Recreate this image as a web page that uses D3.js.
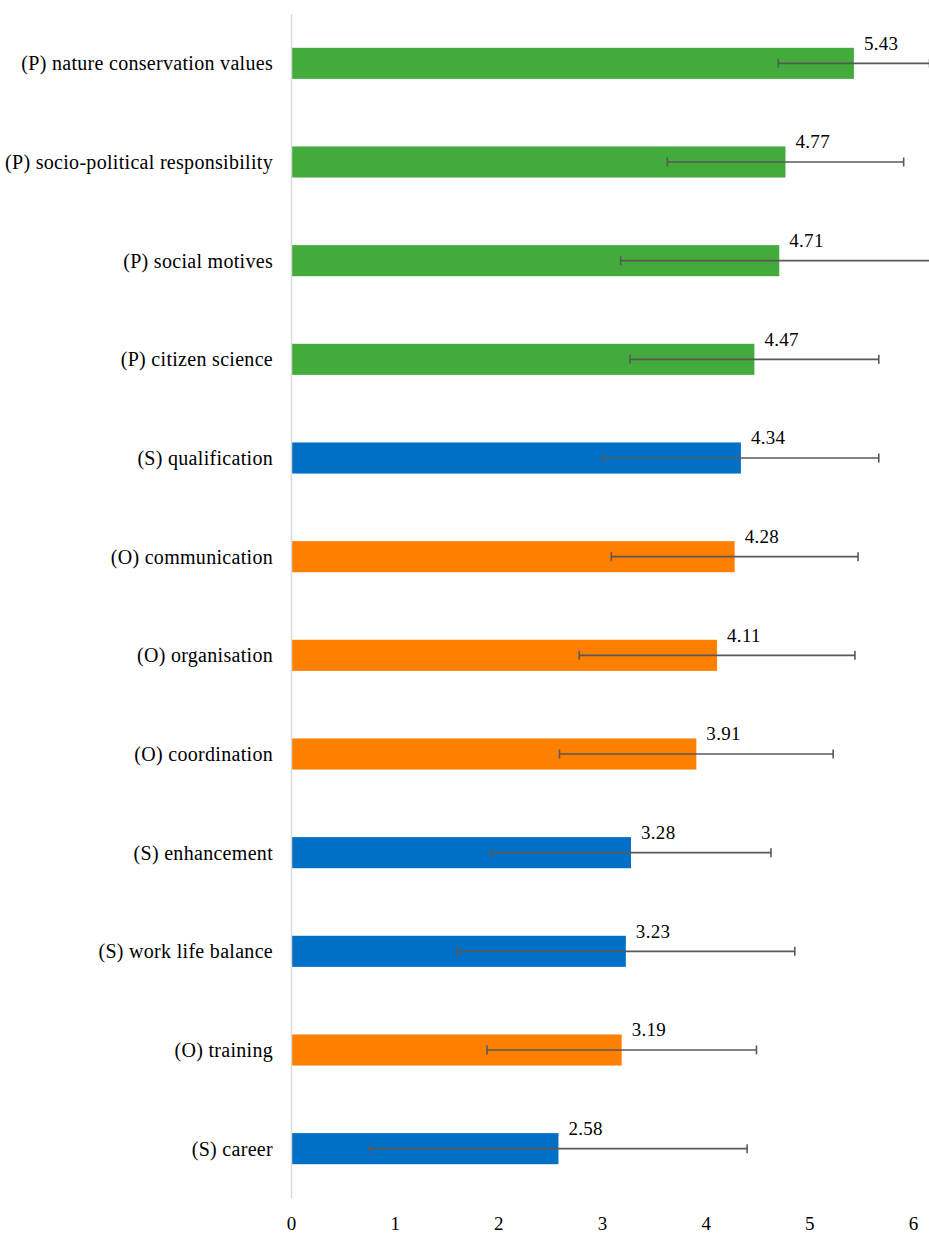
<!DOCTYPE html>
<html>
<head>
<meta charset="utf-8">
<script src="https://cdn.jsdelivr.net/npm/d3@7"></script>
<style>
  body { margin: 0; background: #fff; }
  text { font-family: "Liberation Serif", "DejaVu Serif", serif; fill: #000; }
</style>
</head>
<body>
<div id="chart-1"></div>
<script>
var categories = [
    "(P) nature conservation values",
    "(P) socio-political responsibility",
    "(P) social motives",
    "(P) citizen science",
    "(S) qualification",
    "(O) communication",
    "(O) organisation",
    "(O) coordination",
    "(S) enhancement",
    "(S) work life balance",
    "(O) training",
    "(S) career"
];
var means = [5.43, 4.77, 4.71, 4.47, 4.34, 4.28, 4.11, 3.91, 3.28, 3.23, 3.19, 2.58];
var errors = [0.73, 1.14, 1.53, 1.20, 1.33, 1.19, 1.33, 1.32, 1.35, 1.63, 1.30, 1.82];
var groups = ["P", "P", "P", "P", "S", "O", "O", "O", "S", "S", "O", "S"];
var xTicks = [0, 1, 2, 3, 4, 5, 6];

var colors = { P: "#43ab3b", S: "#0070c6", O: "#ff7f00" };

var data = categories.map(function(c, i) {
    return { name: c, value: means[i], err: errors[i], group: groups[i] };
});

var margin = {top: 14, right: 16, bottom: 36, left: 291},
    width = 929 - margin.left - margin.right,
    height = 1234 - margin.top - margin.bottom;

var x = d3.scaleLinear().domain([0, 6]).range([0, 622]);
var y = d3.scaleBand().domain(categories).range([0, height]).paddingInner(0.685).paddingOuter(0.3425);

var svg = d3.select("#chart-1")
    .append("svg")
    .attr("width", 929)
    .attr("height", 1234)
    .style("display", "block")
    .append("g")
    .attr("transform", "translate(" + margin.left + "," + margin.top + ")");

// bars
svg.selectAll(".bar")
    .data(data)
    .enter().append("rect")
    .attr("class", "bar")
    .attr("x", 0)
    .attr("y", function(d) { return y(d.name); })
    .attr("width", function(d) { return x(d.value); })
    .attr("height", y.bandwidth())
    .style("fill", function(d) { return colors[d.group]; });

// vertical axis line
svg.append("line")
    .attr("x1", 0.5).attr("x2", 0.5)
    .attr("y1", 0).attr("y2", height)
    .style("stroke", "#d9d9d9")
    .style("stroke-width", "1.5px");

// error bars
var eb = svg.selectAll(".err")
    .data(data)
    .enter().append("g")
    .attr("class", "err")
    .attr("transform", function(d) { return "translate(0," + (y(d.name) + y.bandwidth() / 2) + ")"; })
    .style("stroke", "#595959")
    .style("stroke-width", "1.6px");

eb.append("line")
    .attr("x1", function(d) { return x(d.value - d.err); })
    .attr("x2", function(d) { return x(d.value + d.err); });
eb.append("line")
    .attr("x1", function(d) { return x(d.value - d.err); })
    .attr("x2", function(d) { return x(d.value - d.err); })
    .attr("y1", -4.5).attr("y2", 4.5);
eb.append("line")
    .attr("x1", function(d) { return x(d.value + d.err); })
    .attr("x2", function(d) { return x(d.value + d.err); })
    .attr("y1", -4.5).attr("y2", 4.5);

// value labels
svg.selectAll(".val")
    .data(data)
    .enter().append("text")
    .attr("class", "val")
    .attr("x", function(d) { return x(d.value) + 10; })
    .attr("y", function(d) { return y(d.name) + 2; })
    .style("font-size", "19px")
    .style("letter-spacing", "0.3px")
    .text(function(d) { return d.value.toFixed(2); });

// category labels
svg.selectAll(".cat")
    .data(data)
    .enter().append("text")
    .attr("class", "cat")
    .attr("x", -18)
    .attr("y", function(d) { return y(d.name) + y.bandwidth() / 2; })
    .attr("dy", "0.35em")
    .attr("text-anchor", "end")
    .style("font-size", "20px")
    .style("letter-spacing", "0.3px")
    .text(function(d) { return d.name; });

// x axis tick labels
var xAxis = d3.axisBottom(x).tickValues(xTicks).tickFormat(d3.format("d")).tickSize(0).tickPadding(19);
var ax = svg.append("g")
    .attr("class", "x axis")
    .attr("transform", "translate(0," + height + ")")
    .call(xAxis);
ax.select(".domain").remove();
ax.selectAll("text")
    .style("font-size", "19px")
    .style("font-family", "'Liberation Serif', serif");
</script>
</body>
</html>
